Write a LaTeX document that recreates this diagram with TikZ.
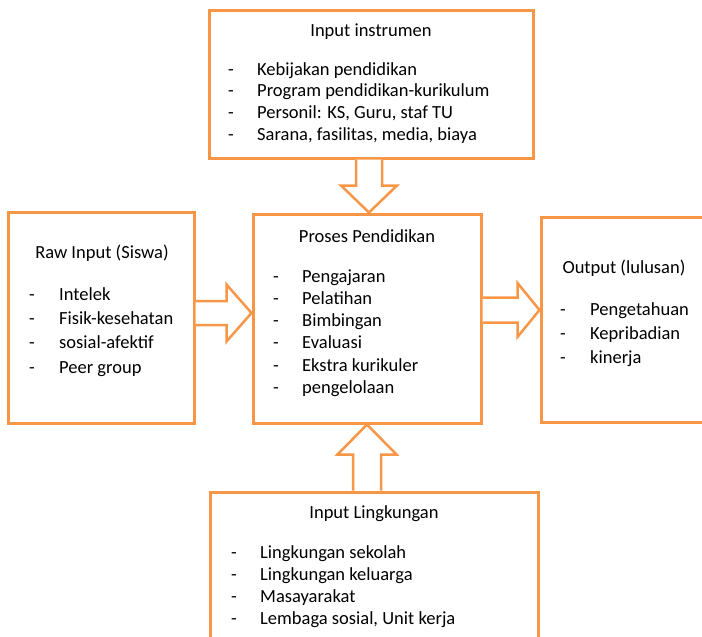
\documentclass[tikz,border=0pt]{standalone}
\usepackage{fontspec}
\setmainfont{Carlito}
\usetikzlibrary{calc}
\definecolor{boxorange}{RGB}{247,150,70}
\begin{document}
\begin{tikzpicture}[x=1pt,y=-1pt,
  box/.style={draw=boxorange,line width=3pt,rectangle,inner sep=0pt},
  blockarrow/.style={draw=boxorange,line width=2.5pt,fill=white,line join=miter},
  txt/.style={inner sep=0pt,font=\fontsize{18.5}{22}\selectfont},
  title/.style={txt,anchor=base},
  item/.style={txt,anchor=base west}]
\useasboundingbox (0,0) rectangle (702,637);
\clip (0,0) rectangle (702,637);
% boxes
\node[box,minimum width=324pt,minimum height=148pt] (top) at (371,84) {};
\node[box,minimum width=186pt,minimum height=211pt] (left) at (101,317.5) {};
\node[box,minimum width=228pt,minimum height=209pt] (mid) at (367,318.5) {};
\node[box,minimum width=218pt,minimum height=205pt] (right) at (650,319.5) {};
\node[box,minimum width=328pt,minimum height=208pt] (bottom) at (374,596) {};
% titles
\node[title] (ttop) at (371,36) {Input instrumen};
\node[title] (tleft) at (102,258) {Raw Input (Siswa)};
\node[title] (tmid) at (367,242) {Proses Pendidikan};
\node[title] (tright) at (624,273) {Output (lulusan)};
\node[title] (tbottom) at (374,518) {Input Lingkungan};
% lists
\foreach \t [count=\i] in {Kebijakan pendidikan,Program pendidikan-kurikulum,{Personil: KS, Guru, staf TU},{Sarana, fasilitas, media, biaya}}{
  \node[item] (dtop\i) at (228,{75+21.9*(\i-1)}) {-};
  \node[item] (itop\i) at (257,{75+21.9*(\i-1)}) {\t};
}
\foreach \t [count=\i] in {Intelek,Fisik-kesehatan,sosial-afektif,Peer group}{
  \node[item] (dleft\i) at (29,{300+24.4*(\i-1)}) {-};
  \node[item] (ileft\i) at (59,{300+24.4*(\i-1)}) {\t};
}
\foreach \t [count=\i] in {Pengajaran,Pelatihan,Bimbingan,Evaluasi,Ekstra kurikuler,pengelolaan}{
  \node[item] (dmid\i) at (273,{282+22.3*(\i-1)}) {-};
  \node[item] (imid\i) at (302,{282+22.3*(\i-1)}) {\t};
}
\foreach \t [count=\i] in {Pengetahuan,Kepribadian,kinerja}{
  \node[item] (dright\i) at (560,{315+24*(\i-1)}) {-};
  \node[item] (iright\i) at (590,{315+24*(\i-1)}) {\t};
}
\foreach \t [count=\i] in {Lingkungan sekolah,Lingkungan keluarga,Masayarakat,{Lembaga sosial, Unit kerja}}{
  \node[item] (dbottom\i) at (231,{558+22*(\i-1)}) {-};
  \node[item] (ibottom\i) at (260,{558+22*(\i-1)}) {\t};
}
% block arrows
\coordinate (aT1) at (369,0 |- top.south);
\coordinate (aT2) at (369,0 |- mid.north);
\draw[blockarrow] ($(aT1)+(-13,0)$) -- ($(aT2)+(-13,-27)$) -- ($(aT2)+(-28,-27)$) -- (aT2)
  -- ($(aT2)+(28,-27)$) -- ($(aT2)+(13,-27)$) -- ($(aT1)+(13,0)$);
\coordinate (aL1) at (left.east |- 0,313);
\coordinate (aL2) at (mid.west |- 0,313);
\draw[blockarrow] ($(aL1)+(0,-12)$) -- ($(aL2)+(-25,-12)$) -- ($(aL2)+(-25,-28.5)$) -- (aL2)
  -- ($(aL2)+(-25,28.5)$) -- ($(aL2)+(-25,12)$) -- ($(aL1)+(0,12)$);
\coordinate (aR1) at (mid.east |- 0,310);
\coordinate (aR2) at (right.west |- 0,310);
\draw[blockarrow] ($(aR1)+(0,-12.5)$) -- ($(aR2)+(-22,-12.5)$) -- ($(aR2)+(-22,-27)$) -- (aR2)
  -- ($(aR2)+(-22,27)$) -- ($(aR2)+(-22,12.5)$) -- ($(aR1)+(0,12.5)$);
\coordinate (aB1) at (367,0 |- bottom.north);
\coordinate (aB2) at (367,0 |- mid.south);
\draw[blockarrow] ($(aB1)+(-14,0)$) -- ($(aB2)+(-14,30)$) -- ($(aB2)+(-29.5,30)$) -- (aB2)
  -- ($(aB2)+(29.5,30)$) -- ($(aB2)+(14,30)$) -- ($(aB1)+(14,0)$);
\end{tikzpicture}
\end{document}
